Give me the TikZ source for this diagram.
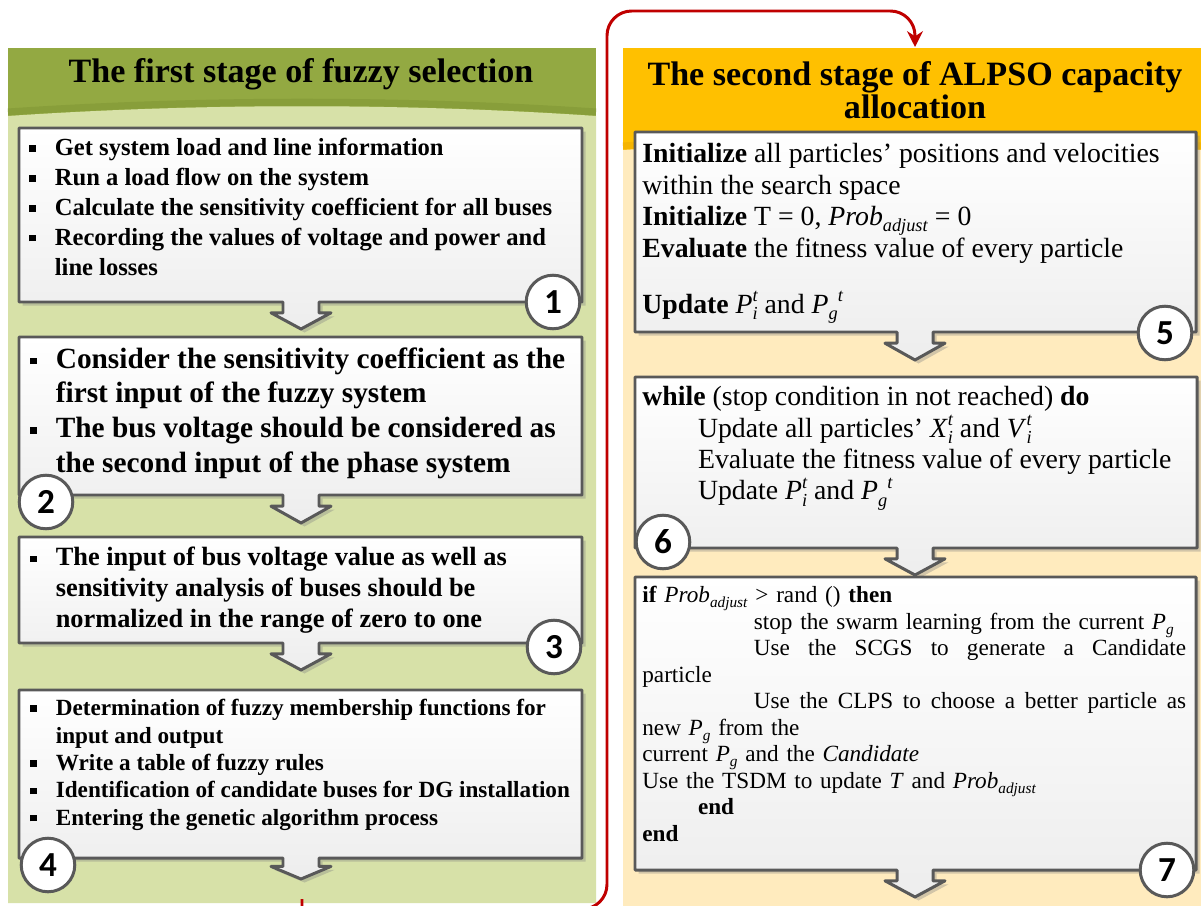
\documentclass[tikz,border=0pt]{standalone}
\usepackage{fontspec}
\setmainfont{Liberation Serif}
\newfontfamily\numfont{Carlito}
\usetikzlibrary{arrows.meta,shadows}
\setlength{\parindent}{0pt}
\definecolor{hdrgreen}{RGB}{147,169,66}
\definecolor{bandgreen}{RGB}{136,158,58}
\definecolor{panelgreen}{RGB}{215,225,168}
\definecolor{hdrgold}{RGB}{255,192,0}
\definecolor{bandgold}{RGB}{245,180,0}
\definecolor{panelgold}{RGB}{255,235,190}
\definecolor{boxgray}{RGB}{89,89,89}
\definecolor{linkred}{RGB}{192,0,0}
\newcommand{\bul}{\makebox[14.5pt][l]{\rule[2.2pt]{3.6pt}{3.6pt}}}
\newcommand{\ind}[1]{\hspace*{#1}}
\newcommand{\lo}[1]{\raisebox{-0.22em}{\scalebox{0.66}{\textit{#1}}}}
\newcommand{\hi}[1]{\raisebox{0.42em}{\scalebox{0.66}{\textit{#1}}}}
\newcommand{\Prob}{\textit{Prob}\lo{adjust}}
\newcommand{\Pit}[2]{\textit{#1}\rlap{\hi{t}}\lo{#2}}
\newcommand{\Pg}{\textit{P}\lo{g}}
\newcommand{\Pgt}{\Pg\hi{t}}

\begin{document}
\begin{tikzpicture}[x=0.02cm,y=-0.02cm,
    stepbox/.style={draw=boxgray,line width=1.7pt,line join=round,top color=white,bottom color=black!7,
      drop shadow={shadow xshift=2pt,shadow yshift=-2pt,opacity=0.35}},
    numcirc/.style={circle,draw=boxgray,line width=1.7pt,fill=white,minimum size=30.5pt,inner sep=0pt,
      font=\numfont\fontsize{20}{20}\selectfont\bfseries},
    txt/.style={anchor=north west,inner sep=0pt,align=left},
    redline/.style={draw=linkred,line width=1.7pt}]
\useasboundingbox (0,0) rectangle (1201,906);
\fill[white] (0,0) rectangle (1201,906);

\fill[hdrgreen] (8,48) rectangle (596,120);
\draw[bandgreen,line width=4pt] (8,112) .. controls (200,99) and (404,99) .. (596,112);
\fill[panelgreen] (8,903) -- (8,116) .. controls (200,103) and (404,103) .. (596,116) -- (596,903) -- cycle;
\fill[hdrgold] (623,48) rectangle (1201,155);
\draw[bandgold,line width=4pt] (623,146) .. controls (816,133) and (1008,133) .. (1201,146);
\fill[panelgold] (623,906) -- (623,150) .. controls (816,137) and (1008,137) .. (1201,150) -- (1201,906) -- cycle;

\node[anchor=base,inner sep=0pt,font=\fontsize{19.4}{18}\selectfont\bfseries] (hleft) at (301,82) {The first stage of fuzzy selection};
\node[anchor=north,inner sep=0pt,align=center,font=\fontsize{19.4}{19}\selectfont\bfseries] (hright) at (915,61) {The second stage of ALPSO capacity\\allocation};

\foreach \xa/\ya/\xb/\yb/\xc/\tip in {19/128/582/302/301/27, 19/337/582/495/301/28, 19/537/582/643/301/27, 19/690/582/858/301/21,
    635/132/1196/332/915/28, 635/377/1197/548/915/27, 635/577/1196/870/915/27}
  \draw[stepbox] (\xa,\ya) -- (\xb,\ya) -- (\xb,\yb) -- ({\xc+18},\yb) -- ({\xc+18},{\yb+0.4*\tip})
    -- ({\xc+30},{\yb+0.4*\tip}) -- (\xc,{\yb+\tip}) -- ({\xc-30},{\yb+0.4*\tip}) -- ({\xc-18},{\yb+0.4*\tip})
    -- ({\xc-18},\yb) -- (\xa,\yb) -- cycle;

\node[txt,font=\fontsize{14}{17}\selectfont\bfseries] (t1) at (29,138) {\bul Get system load and line information\\
  \bul Run a load flow on the system\\
  \bul Calculate the sensitivity coefficient for all buses\\
  \bul Recording the values of voltage and power and\\
  \ind{14.5pt}line losses};
\node[txt,font=\fontsize{16.7}{19.8}\selectfont\bfseries] (t2) at (30,347) {\bul Consider the sensitivity coefficient as the\\
  \ind{14.5pt}first input of the fuzzy system\\
  \bul The bus voltage should be considered as\\
  \ind{14.5pt}the second input of the phase system};
\node[txt,font=\fontsize{15}{17.6}\selectfont\bfseries] (t3) at (30,547) {\bul The input of bus voltage value as well as\\
  \ind{14.5pt}sensitivity analysis of buses should be\\
  \ind{14.5pt}normalized in the range of zero to one};
\node[txt,font=\fontsize{13.2}{15.6}\selectfont\bfseries] (t4) at (30,699) {\bul Determination of fuzzy membership functions for\\
  \ind{14.5pt}input and output\\
  \bul Write a table of fuzzy rules\\
  \bul Identification of candidate buses for DG installation\\
  \bul Entering the genetic algorithm process};

\node[txt,font=\fontsize{15.8}{18}\selectfont] (t5) at (642,143) {\textbf{Initialize} all particles' positions and velocities\\
  within the search space\\
  \textbf{Initialize} T = 0, \Prob{} = 0\\
  \textbf{Evaluate} the fitness value of every particle\\[13.8pt]
  \textbf{Update} \Pit{P}{i} and \Pgt};
\node[txt,font=\fontsize{15.8}{17.9}\selectfont] (t6) at (642,386) {\textbf{while} (stop condition in not reached) \textbf{do}\\
  \ind{31.7pt}Update all particles' \Pit{X}{i} and \Pit{V}{i}\\
  \ind{31.7pt}Evaluate the fitness value of every particle\\
  \ind{31.7pt}Update \Pit{P}{i} and \Pgt};
\node[txt,text width=309.5pt,font=\fontsize{13.2}{15.1}\selectfont] (t7) at (642,586) {\textbf{if} \Prob{} {\textgreater} rand () \textbf{then}\\
  \ind{63.5pt}stop the swarm learning from the current \Pg\\
  \ind{63.5pt}Use\hfill the\hfill SCGS\hfill to\hfill generate\hfill a\hfill Candidate\\
  particle\\
  \ind{63.5pt}Use\hfill the\hfill CLPS\hfill to\hfill choose\hfill a\hfill better\hfill particle\hfill as\\
  new \Pg{} from the\\
  current \Pg{} and the \textit{Candidate}\\
  Use the TSDM to update \textit{T} and \Prob\\
  \ind{31.7pt}\textbf{end}\\
  \textbf{end}};

\node[numcirc] (c1) at (553,302) {1};
\node[numcirc] (c2) at (46,502) {2};
\node[numcirc] (c3) at (554,647) {3};
\node[numcirc] (c4) at (48,865) {4};
\node[numcirc] (c5) at (1165,333) {5};
\node[numcirc] (c6) at (663,542) {6};
\node[numcirc] (c7) at (1167,870) {7};

\coordinate (redstart) at (302,899);
\coordinate (redend) at (915,47);
\draw[redline,-{Stealth[length=9pt,width=9pt]}] (redstart) -- (302,909) [rounded corners=14pt] -- (607,909) -- (607,11) -- (915,11) -- (redend);
\end{tikzpicture}
\end{document}
